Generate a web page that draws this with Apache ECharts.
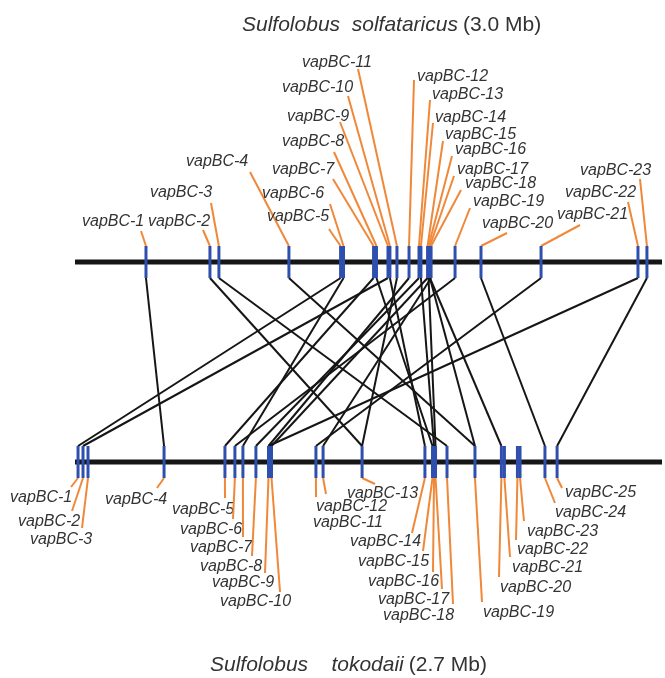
<!DOCTYPE html>
<html><head><meta charset="utf-8">
<script src="https://cdn.jsdelivr.net/npm/echarts@6/dist/echarts.min.js"></script>
<style>html,body{margin:0;padding:0;background:#fff}#c{width:665px;height:678px}</style>
</head><body><div id="c"></div>
<script>
// ---------------- DATA ----------------
const topGenomeName = 'Sulfolobus  solfataricus';
const topGenomeSize = '(3.0 Mb)';
const topGenomeMb = 3.0;
const bottomGenomeName = 'Sulfolobus    tokodaii';
const bottomGenomeSize = '(2.7 Mb)';
const bottomGenomeMb = 2.7;

// S. solfataricus vapBC loci (gene label, position in Mb)
const topGenes = ['vapBC-1','vapBC-2','vapBC-3','vapBC-4','vapBC-5','vapBC-6','vapBC-7','vapBC-8',
  'vapBC-9','vapBC-10','vapBC-11','vapBC-12','vapBC-13','vapBC-14','vapBC-15','vapBC-16',
  'vapBC-17','vapBC-18','vapBC-19','vapBC-20','vapBC-21','vapBC-22','vapBC-23'];
const topPos = [0.364,0.692,0.738,1.097,1.362,1.377,1.531,1.546,
  1.605,1.615,1.651,1.713,1.764,1.774,1.808,1.813,
  1.820,1.826,1.949,2.082,2.390,2.887,2.933];

// S. tokodaii vapBC loci
const bottomGenes = ['vapBC-1','vapBC-2','vapBC-3','vapBC-4','vapBC-5','vapBC-6','vapBC-7','vapBC-8',
  'vapBC-9','vapBC-10','vapBC-11','vapBC-12','vapBC-13','vapBC-14','vapBC-15','vapBC-16',
  'vapBC-17','vapBC-18','vapBC-19','vapBC-20','vapBC-21','vapBC-22','vapBC-23','vapBC-24','vapBC-25'];
const bottomPos = [0.014,0.037,0.060,0.411,0.692,0.738,0.775,0.835,
  0.893,0.907,1.112,1.145,1.325,1.615,1.650,1.657,
  1.664,1.717,1.846,1.968,1.982,2.042,2.054,2.169,2.225];

// homology links: [S. solfataricus vapBC number, S. tokodaii vapBC number]
const links = [[1,4],[2,13],[3,18],[4,19],[5,1],[6,7],[7,5],[8,15],[9,2],[10,14],[11,13],
  [12,9],[13,8],[14,16],[15,10],[16,17],[17,19],[18,12],[19,6],[20,24],[21,11],[22,9],[23,25],[17,20]];

// ---------------- LAYOUT (label placement, pixels) ----------------
// [text left x, text centre y, leader start x, leader start y]
const topLabelLayout = [
  [82,222,141,231],[148,222,203,230],[150,193,211,203],[186,162,250,172],[267,217,329,229],
  [262,194,330,204],[272,170,333,179],[282,142,334,152],[287,117,340,122],[282,88,348,96],
  [302,63,358,69],[417,77,414,80],[432,95,430,100],[435,118,433,123],[445,135,443,141],
  [455,150,452,156],[457,170,454,176],[465,184,461,190],[473,202,470,208],[482,224,507,233],
  [557,215,580,225],[565,193,628,202],[580,171,640,179]];
const bottomLabelLayout = [
  [10,498,71,487],[18,522,72,511],[30,540,82,528],[105,500,157,488],[172,510,225,498],
  [180,530,233,519],[190,548,243,537],[200,567,252,556],[212,583,265,573],[220,602,280,592],
  [313,523,316,497],[316,507,326,494],[347,494,375,484],[350,542,412,533],[358,562,423,551],
  [368,582,433,572],[378,600,442,589],[383,616,453,604],[483,613,482,602],[500,588,499,577],
  [512,568,510,557],[517,550,516,540],[527,532,524,521],[555,513,555,503],[565,493,562,488]];

const BLUE = '#2f4fae', ORANGE = '#f0883a', BLACK = '#161616', TXT = '#333333';
const LABEL_FONT = 'italic 16px "Liberation Sans", Arial, sans-serif';
const TICK_HALF = 16;

const chart = echarts.init(document.getElementById('c'), null, {renderer: 'canvas'});
const ratio = topGenomeMb / bottomGenomeMb;

const topData = topPos.map((p, i) => [p, 1, i]);
const bottomData = bottomPos.map((p, i) => [p * ratio, 0, i]);
const linkData = links.map(l => [topPos[l[0]-1], bottomPos[l[1]-1] * ratio]);

function tickItem(params, api) {
  const pt = api.coord([api.value(0), api.value(1)]);
  return {type: 'rect', shape: {x: pt[0]-1.5, y: pt[1]-TICK_HALF, width: 3, height: TICK_HALF*2},
    style: {fill: BLUE}};
}
function labelItem(layout, names, isTop) {
  return function (params, api) {
    const i = api.value(2);
    const pt = api.coord([api.value(0), api.value(1)]);
    const endY = isTop ? pt[1]-TICK_HALF : pt[1]+TICK_HALF;
    const L = layout[i];
    return {type: 'group', children: [
      {type: 'line', shape: {x1: L[2], y1: L[3], x2: pt[0], y2: endY},
        style: {stroke: ORANGE, lineWidth: 2}},
      {type: 'text', style: {text: names[i], x: L[0], y: L[1], font: LABEL_FONT, fill: TXT,
        align: 'left', verticalAlign: 'middle'}}
    ]};
  };
}
const titleRich = {
  i: {fontStyle: 'italic', fontWeight: 'normal', fontSize: 21, color: TXT, fontFamily: 'Liberation Sans'},
  n: {fontStyle: 'normal', fontWeight: 'normal', fontSize: 21, color: TXT, fontFamily: 'Liberation Sans'}
};

chart.setOption({
  animation: false,
  title: [
    {text: '{i|' + topGenomeName + '} {n|' + topGenomeSize + '}', left: 237, top: 10,
      textStyle: {fontWeight: 'normal', rich: titleRich}},
    {text: '{i|' + bottomGenomeName + '} {n|' + bottomGenomeSize + '}', left: 205, top: 650,
      textStyle: {fontWeight: 'normal', rich: titleRich}}
  ],
  grid: {left: 75, right: 5, top: 262, height: 200},
  xAxis: {type: 'value', min: 0, max: topGenomeMb, show: false},
  yAxis: {type: 'value', min: 0, max: 1, show: false},
  series: [
    {type: 'custom', name: 'chromosomes', clip: false, z: 1,
      data: [[topGenomeMb, 1], [bottomGenomeMb * ratio, 0]],
      renderItem: (params, api) => {
        const a = api.coord([0, api.value(1)]);
        const b = api.coord([api.value(0), api.value(1)]);
        return {type: 'line', shape: {x1: a[0], y1: a[1], x2: b[0] + 2, y2: b[1]},
          style: {stroke: BLACK, lineWidth: 5}};
      }},
    {type: 'custom', name: 'links', clip: false, z: 2, data: linkData,
      renderItem: (params, api) => {
        const a = api.coord([api.value(0), 1]);
        const b = api.coord([api.value(1), 0]);
        return {type: 'line', shape: {x1: a[0], y1: a[1]+TICK_HALF, x2: b[0], y2: b[1]-TICK_HALF},
          style: {stroke: BLACK, lineWidth: 2}};
      }},
    {type: 'custom', name: 'topLabels', clip: false, z: 2, data: topData,
      renderItem: labelItem(topLabelLayout, topGenes, true)},
    {type: 'custom', name: 'bottomLabels', clip: false, z: 2, data: bottomData,
      renderItem: labelItem(bottomLabelLayout, bottomGenes, false)},
    {type: 'custom', name: 'topTicks', clip: false, z: 3, data: topData, renderItem: tickItem},
    {type: 'custom', name: 'bottomTicks', clip: false, z: 3, data: bottomData, renderItem: tickItem}
  ]
});
</script></body></html>
